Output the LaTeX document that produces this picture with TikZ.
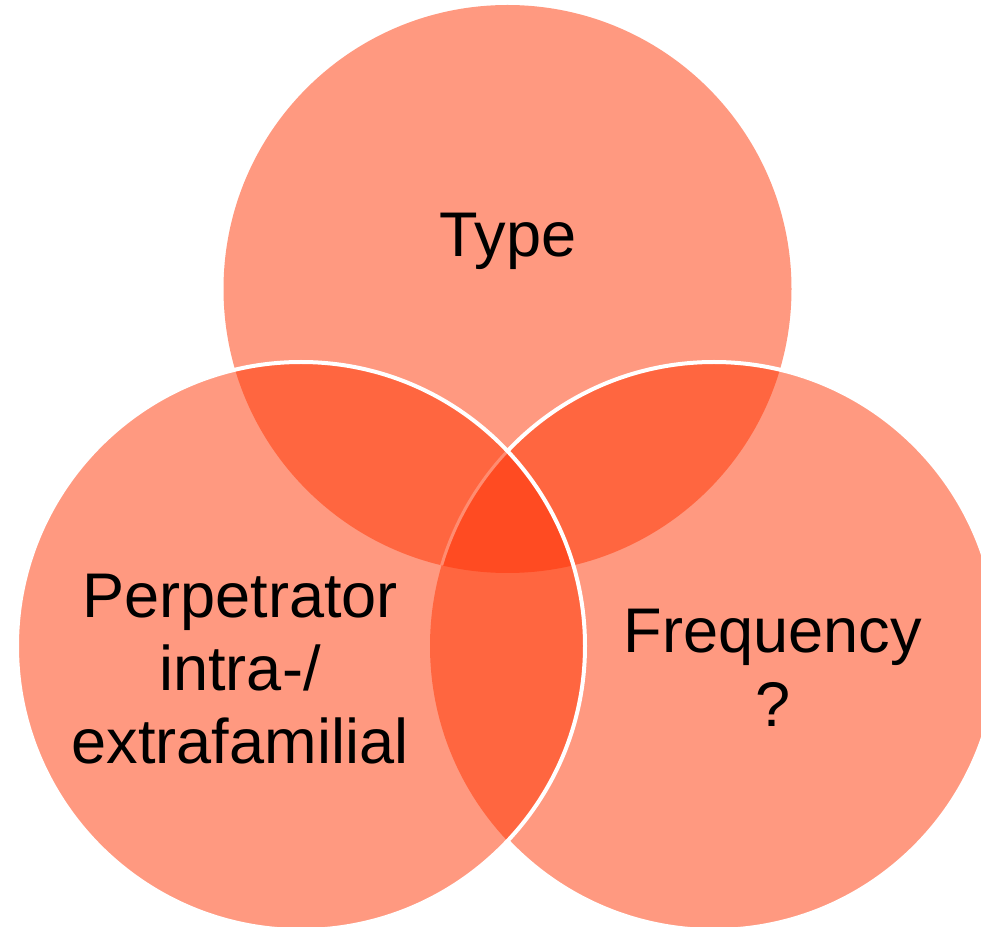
\documentclass[tikz,border=0pt]{standalone}
\usepackage{fontspec}
\setmainfont{Liberation Sans}
\definecolor{vbase}{RGB}{255,153,128}
\definecolor{vdouble}{RGB}{255,102,64}
\definecolor{vtriple}{RGB}{255,75,34}
\definecolor{vfaint}{RGB}{255,140,112}
\begin{document}
\begin{tikzpicture}[
  lbl/.style={inner sep=0pt, anchor=base, text=black, font=\fontsize{35.9}{41.5}\selectfont},
  whiteline/.style={draw=white, line width=0.08cm}
]
\useasboundingbox (0,0) rectangle (19.62,-18.54);
\clip (0,0) rectangle (19.62,-18.54);
\def\R{5.68cm}
\coordinate (T) at (10.15,-5.78);
\coordinate (L) at (6.02,-12.92);
\coordinate (Rc) at (14.28,-12.92);
% top and right circles
\fill[vbase] (T) circle (\R);
\fill[vbase] (Rc) circle (\R);
\begin{scope}
  \clip (T) circle (\R);
  \fill[vdouble] (Rc) circle (\R);
\end{scope}
\draw[whiteline] (Rc) circle (\R);
% left circle on top
\fill[vbase] (L) circle (\R);
\begin{scope}
  \clip (L) circle (\R);
  \fill[vdouble] (T) circle (\R);
  \fill[vdouble] (Rc) circle (\R);
  \clip (T) circle (\R);
  \fill[vtriple] (Rc) circle (\R);
  \draw[vfaint, line width=0.06cm] (Rc) circle (\R);
\end{scope}
\draw[whiteline] (L) circle (\R);
% labels
\node[lbl] (type) at (10.16,-5.14) {Type};
\node[lbl] (perp1) at (4.80,-12.34) {Perpetrator};
\node[lbl] (perp2) at (4.80,-13.80) {intra-/};
\node[lbl] (perp3) at (4.80,-15.26) {extrafamilial};
\node[lbl] (freq1) at (15.46,-13.06) {Frequency};
\node[lbl] (freq2) at (15.46,-14.54) {?};
\end{tikzpicture}
\end{document}
